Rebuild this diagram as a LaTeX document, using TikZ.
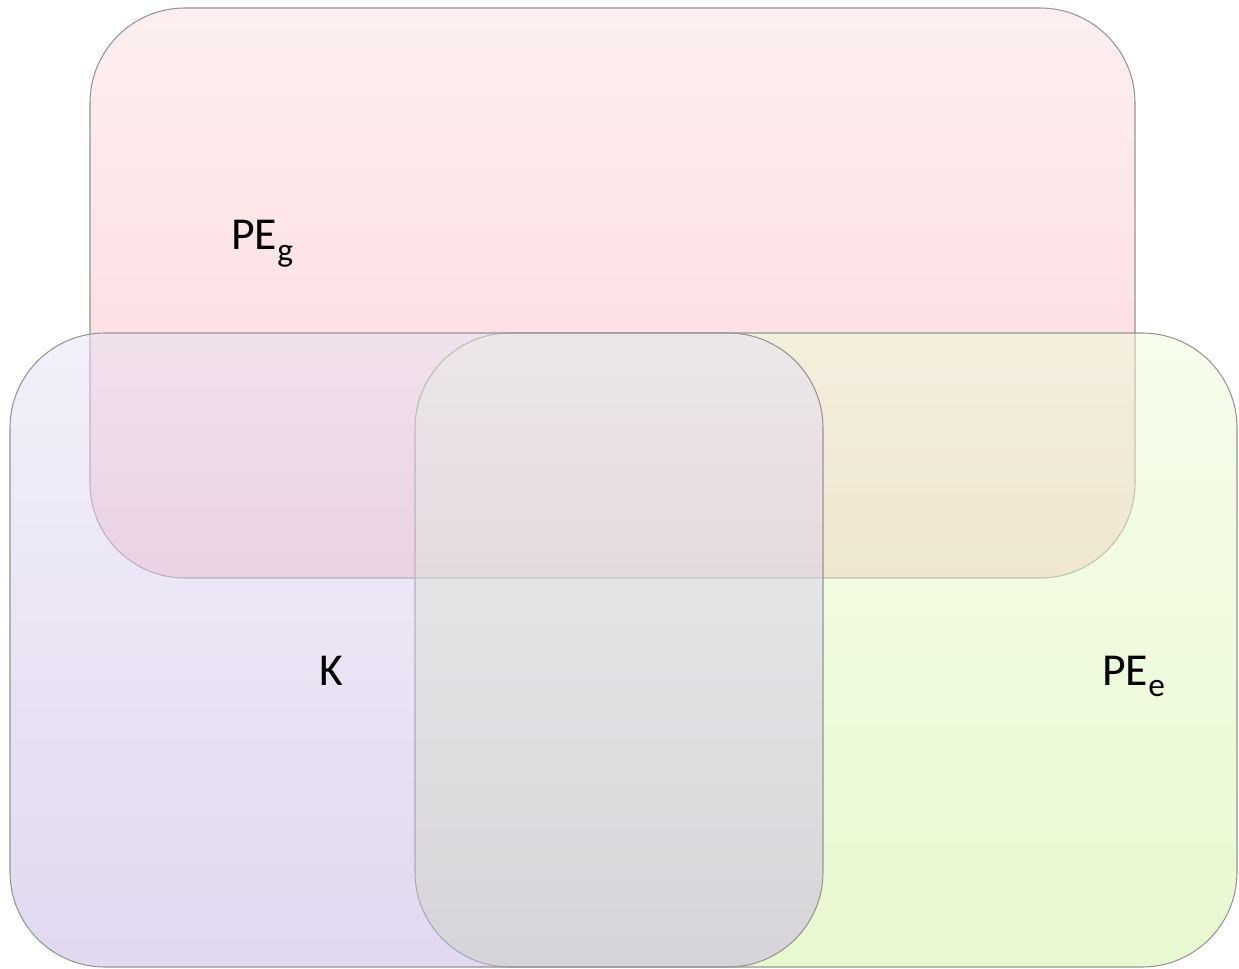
\documentclass[tikz,border=0pt]{standalone}
\usepackage{fontspec}
\setmainfont{Carlito}
\usepackage{tikz}
\usetikzlibrary{positioning}
\definecolor{pegTop}{HTML}{FCE0E0}
\definecolor{pegBot}{HTML}{FAAEB8}
\definecolor{kTop}{HTML}{E5E1F5}
\definecolor{kBot}{HTML}{C5B1E1}
\definecolor{peeTop}{HTML}{EDFBD9}
\definecolor{peeBot}{HTML}{D1F1A1}
\newcommand{\lowsub}[1]{\raisebox{-6.5pt}{\fontsize{19}{22}\selectfont #1}}
\tikzset{
  setbox/.style={draw=black!42,line width=0.6pt,rounded corners=1.9cm,
    fill opacity=0.5,inner sep=0pt,outer sep=0pt},
  setlabel/.style={font=\fontsize{26}{30}\selectfont,anchor=base west,inner sep=0pt}
}
\begin{document}
\begin{tikzpicture}
  \useasboundingbox (0,0) rectangle (24.78,-19.38);
  % the three sets
  \node[setbox, top color=pegTop, bottom color=pegBot,
    minimum width=20.9cm, minimum height=11.4cm] (peg) at (12.25,-5.86) {};
  \node[setbox, top color=peeTop, bottom color=peeBot,
    minimum width=16.44cm, minimum height=12.68cm] (pee) at (16.52,-13.0) {};
  \node[setbox, top color=kTop, bottom color=kBot,
    minimum width=16.26cm, minimum height=12.68cm] (k) at (8.33,-13.0) {};

  % labels
  \node[setlabel] (peglabel) at (4.62,-5.0) {PE\lowsub{g}};
  \node[setlabel] (klabel) at (6.38,-13.7) {K};
  \node[setlabel] (peelabel) at (22.04,-13.7) {PE\lowsub{e}};
\end{tikzpicture}
\end{document}
